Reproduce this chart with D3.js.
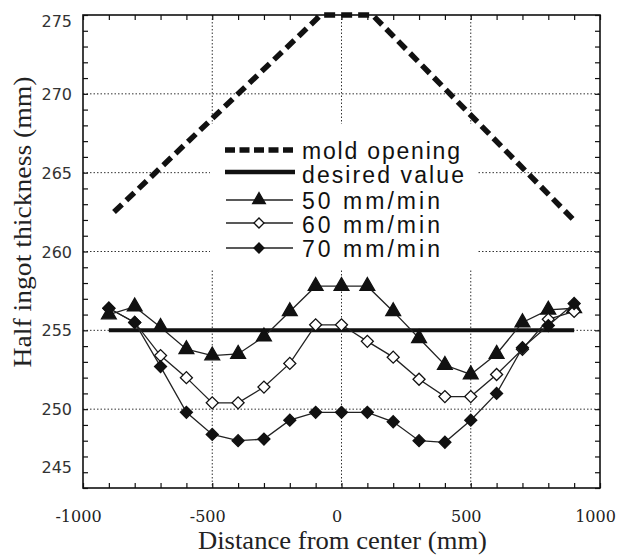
<!DOCTYPE html>
<html><head><meta charset="utf-8">
<script src="https://cdn.jsdelivr.net/npm/d3@7"></script>
<style>body{margin:0;background:#fff}svg{display:block}</style>
</head><body><svg id="c" width="617" height="556"></svg>
<script>
// ---- data ----
const positions = [-900,-800,-700,-600,-500,-400,-300,-200,-100,0,100,200,300,400,500,600,700,800,900];
const speed50 = [256.0,256.5,255.2,253.8,253.4,253.5,254.6,256.2,257.8,257.8,257.8,256.2,254.5,252.8,252.2,253.5,255.5,256.3,256.4];
const speed60 = [256.4,255.5,253.4,252.0,250.4,250.4,251.4,252.9,255.35,255.35,254.3,253.3,251.9,250.8,250.8,252.2,253.8,255.7,256.2];
const speed70 = [256.4,255.5,252.7,249.8,248.4,248.0,248.1,249.3,249.8,249.8,249.8,249.2,248.0,247.9,249.3,251.0,253.9,255.3,256.7];
const moldX = [-880,-80,120,910];
const moldY = [262.5,275,275,261.8];
const desiredX = [-900,900];
const desiredY = [255,255];
const xTickLabels = [-1000,-500,0,500,1000];
const yTickLabels = [245,250,255,260,265,270,275];
const legendLabels = ["mold opening","desired value","50 mm/min","60 mm/min","70 mm/min"];

const svg = d3.select("#c");
const L=83,R=600,T=15,B=488;
const x = d3.scaleLinear().domain([-1000,1000]).range([L,R]);
const y = d3.scaleLinear().domain([245,275]).range([B,T]);

// grid
const grid = svg.append("g").attr("stroke","#333").attr("stroke-width",1).attr("stroke-dasharray","1.5,2");
[250,255,260,265,270].forEach(v=>grid.append("line").attr("x1",L).attr("x2",R).attr("y1",y(v)).attr("y2",y(v)));
[-500,0,500].forEach(v=>grid.append("line").attr("y1",T).attr("y2",B).attr("x1",x(v)).attr("x2",x(v)));

// legend background occluding grid
svg.append("rect").attr("x",210).attr("y",124).attr("width",267).attr("height",145).attr("fill","#fff");

// axes with inward ticks
const minorX = d3.range(-1000,1001,100), minorY = d3.range(245,276,1);
svg.append("g").attr("transform",`translate(0,${B})`).call(d3.axisBottom(x).tickValues(minorX).tickSize(-5).tickFormat(""));
svg.append("g").attr("transform",`translate(0,${T})`).call(d3.axisTop(x).tickValues(minorX).tickSize(-5).tickFormat(""));
svg.append("g").attr("transform",`translate(${L},0)`).call(d3.axisLeft(y).tickValues(minorY).tickSize(-5).tickFormat(""));
svg.append("g").attr("transform",`translate(${R},0)`).call(d3.axisRight(y).tickValues(minorY).tickSize(-5).tickFormat(""));
svg.selectAll(".domain").remove();
svg.selectAll(".tick line").attr("stroke","#111").attr("stroke-width",1.2);

// tick labels
const xl = svg.append("g").attr("transform",`translate(0,${B})`).call(d3.axisBottom(x).tickValues(xTickLabels).tickSize(0).tickFormat(d=>String(d)));
xl.select(".domain").remove();
xl.selectAll("text").attr("font-family","'DejaVu Serif'").attr("font-size",16).attr("fill","#222")
  .attr("dy",null).attr("y",34).attr("dx",-5);
const yl = svg.append("g").attr("transform",`translate(${L},0)`).call(d3.axisLeft(y).tickValues(yTickLabels).tickSize(0).tickFormat(d=>String(d)));
yl.select(".domain").remove();
yl.selectAll("text").attr("font-family","'DejaVu Sans'").attr("font-size",16).attr("fill","#333")
  .attr("x",-11).attr("dy",d=> d===275? "0.72em" : d===245 ? "-1.0em" : "0.35em");

// frame
svg.append("rect").attr("x",L).attr("y",T).attr("width",R-L).attr("height",B-T).attr("fill","none").attr("stroke","#111").attr("stroke-width",1.6);

const line = d3.line().x(d=>x(d[0])).y(d=>y(d[1]));
// mold opening
svg.append("path").datum(d3.zip(moldX,moldY)).attr("d",line).attr("fill","none").attr("stroke","#111")
  .attr("stroke-width",5.5).attr("stroke-dasharray","11,6").attr("stroke-linecap","butt");
// desired
svg.append("path").datum(d3.zip(desiredX,desiredY)).attr("d",line).attr("fill","none").attr("stroke","#111").attr("stroke-width",4);

const tri = d3.symbol().type(d3.symbolTriangle).size(95);
const dia = d3.symbol().type(d3.symbolSquare).size(72);
function series(vals, sym, fill, rot){
  const data = d3.zip(positions, vals);
  svg.append("path").datum(data).attr("d",line).attr("fill","none").attr("stroke","#222").attr("stroke-width",1.3);
  svg.append("g").selectAll("path").data(data).join("path")
    .attr("transform",d=>`translate(${x(d[0])},${y(d[1])}) rotate(${rot})`).attr("d",sym)
    .attr("fill",fill).attr("stroke","#111").attr("stroke-width",1.3);
}
series(speed50, tri, "#111", 0);
series(speed60, dia, "#fff", 45);
series(speed70, dia, "#111", 45);

// legend
const lg = svg.append("g");
const rows = [150,172,200,223,248];
const base = [159,183,209,233,257];
const lens = [158,162,138,138,138];
lg.append("line").attr("x1",225).attr("x2",295).attr("y1",rows[0]).attr("y2",rows[0]).attr("stroke","#111").attr("stroke-width",5.5).attr("stroke-dasharray","10,4.5");
lg.append("line").attr("x1",225).attr("x2",295).attr("y1",rows[1]).attr("y2",rows[1]).attr("stroke","#111").attr("stroke-width",4.5);
const legSyms = [[d3.symbol().type(d3.symbolTriangle).size(70),"#111",0],[d3.symbol().type(d3.symbolSquare).size(50),"#fff",45],[d3.symbol().type(d3.symbolSquare).size(50),"#111",45]];
legSyms.forEach((s,i)=>{
  const yy = rows[i+2];
  lg.append("line").attr("x1",226).attr("x2",293).attr("y1",yy).attr("y2",yy).attr("stroke","#222").attr("stroke-width",1.3);
  lg.append("path").attr("transform",`translate(259,${yy}) rotate(${s[2]})`).attr("d",s[0]).attr("fill",s[1]).attr("stroke","#111").attr("stroke-width",1.3);
});
legendLabels.forEach((t,i)=>{
  lg.append("text").attr("x",302).attr("y",base[i]).text(t)
    .attr("font-family","'Liberation Sans',Arial").attr("font-size",23).attr("fill","#111")
    .attr("textLength",lens[i]).attr("lengthAdjust","spacing");
});

// axis titles
svg.append("text").attr("x",198).attr("y",549).text("Distance from center (mm)")
  .attr("font-family","'Liberation Serif'").attr("font-size",26).attr("fill","#222")
  .attr("textLength",289).attr("lengthAdjust","spacingAndGlyphs");
svg.append("text").attr("transform","translate(31,222) rotate(-90)").attr("text-anchor","middle")
  .text("Half ingot thickness (mm)")
  .attr("font-family","'Liberation Serif'").attr("font-size",26).attr("fill","#222")
  .attr("textLength",291).attr("lengthAdjust","spacingAndGlyphs");
</script></body></html>
